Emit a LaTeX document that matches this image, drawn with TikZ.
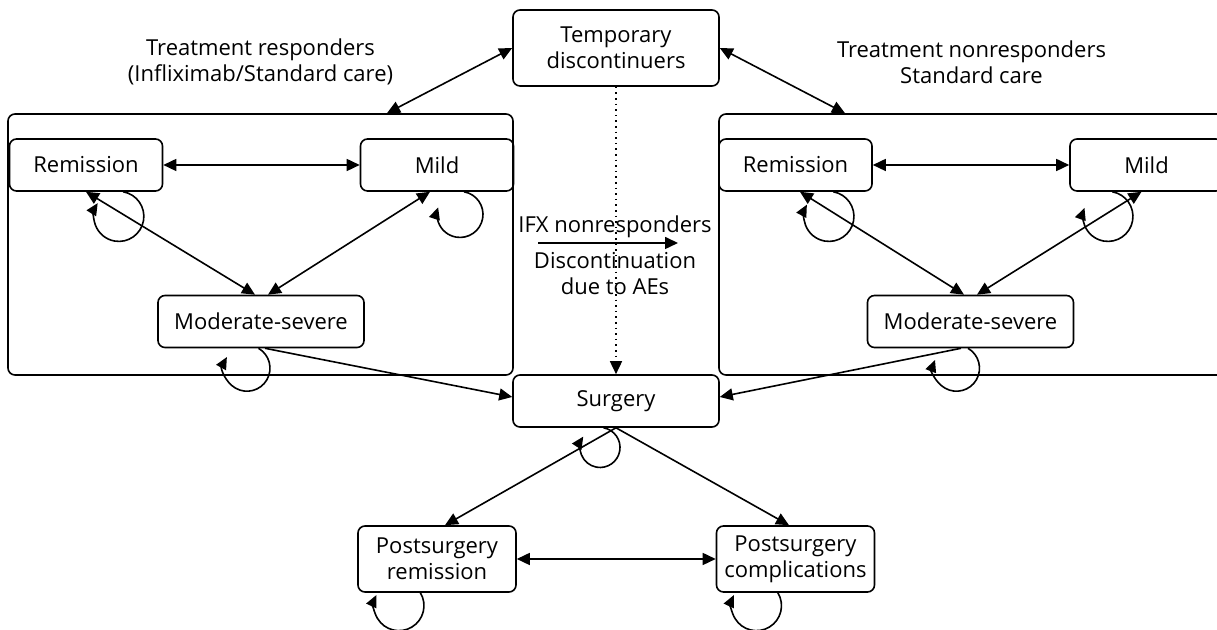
\documentclass[tikz,border=0pt]{standalone}
\usepackage{fontspec}
\setmainfont{Open Sans}
\usetikzlibrary{arrows.meta,positioning}

\begin{document}
\begin{tikzpicture}[x=0.5pt,y=0.5pt,
  font=\fontsize{11}{13}\selectfont,
  statebox/.style={draw,rounded corners=3.5pt,line width=0.8pt,inner sep=0pt,align=center,
    minimum width=#1,minimum height=26pt},
  statebox/.default=76.5pt,
  groupbox/.style={draw,rounded corners=3.5pt,line width=0.8pt,inner sep=0pt,
    minimum width=252.5pt,minimum height=130.5pt},
  grouplabel/.style={align=center},
  biarrow/.style={{Triangle[length=6.5pt,width=6pt]}-{Triangle[length=6.5pt,width=6pt]},line width=0.8pt},
  onearrow/.style={-{Triangle[length=6.5pt,width=6pt]},line width=0.8pt},
  selfloop/.style={-{Triangle[length=6pt,width=5.5pt]},line width=0.8pt}]

 \useasboundingbox (0,0) rectangle (1217,630);
 \clip (0,0) rectangle (1217,630);

 % ---- top ----
 \node[statebox=103pt,minimum height=38pt] (tmp) at (616,582) {Temporary\\discontinuers};
 \node[grouplabel] (respL) at (260.5,568) {Treatment responders\\(Infliximab/Standard care)};
 \node[grouplabel] (respR) at (971.5,568) {Treatment nonresponders\\Standard care};

 % ---- treatment groups ----
 \node[groupbox] (grpL) at (260.5,385.5) {};
 \node[groupbox] (grpR) at (971.5,385.5) {};
 \foreach \s/\dx in {L/0,R/709.5} {
   \node[statebox] (rem\s) at (86+\dx,465) {Remission};
   \node[statebox] (mild\s) at (437+\dx,465) {Mild};
   \node[statebox=103pt] (mod\s) at (261+\dx,308.5) {Moderate-severe};
   \draw[biarrow] (rem\s.east) -- (mild\s.west);
 }

 % ---- surgery ----
 \node[statebox=103pt] (surg) at (616,229) {Surgery};
 \node[statebox=79pt,minimum height=33pt] (prem) at (437,71) {Postsurgery\\remission};
 \node[statebox=79pt,minimum height=33pt] (pcomp) at (795.5,71) {Postsurgery\\complications};

 % ---- middle labels ----
 \node (ifx) at (615,403) {IFX nonresponders};
 \node[align=center] (disc) at (615,356.5) {Discontinuation\\due to AEs};
 \coordinate (ifxa) at (538,387);
 \coordinate (ifxb) at (678,387);

 % ---- connectors ----
 \draw[biarrow] (tmp.west) -- ([xshift=63.25pt]grpL.north);
 \draw[biarrow] (tmp.east) -- ([xshift=-63.25pt]grpR.north);
 \draw[onearrow,dotted] (tmp.south) -- (surg.north);
 \draw[onearrow] (ifxa) -- (ifxb);
 \draw[biarrow] (remL.south) -- ([xshift=-3pt]modL.north);
 \draw[biarrow] ([xshift=-3.5pt]mildL.south) -- ([xshift=3.5pt]modL.north);
 \draw[biarrow] ([xshift=2.25pt]remR.south) -- ([xshift=-3.25pt]modR.north);
 \draw[biarrow] ([xshift=-2.5pt]mildR.south) -- ([xshift=3.25pt]modR.north);
 \draw[onearrow] ([xshift=2pt]modL.south) -- ([yshift=2pt]surg.west);
 \draw[onearrow] ([xshift=-4.75pt]modR.south) -- ([yshift=2pt]surg.east);
 \draw[onearrow] (surg.south) -- ([xshift=4pt]prem.north);
 \draw[onearrow] (surg.south) -- ([xshift=-3.25pt]pcomp.north);
 \draw[biarrow] (prem.east) -- (pcomp.west);

 % ---- self loops ----
 \foreach \n/\dx/\a/\b/\r in {remL/18.6/80/-212/25, mildL/13.5/80/-198/23,
     remR/18.9/80/-208/25, mildR/-17.1/80/-200/25, modL/-1.25/60/-209/23,
     modR/-1.25/60/-201/23, surg/-6.25/80/-213/20, prem/-8.3/31/-205/25,
     pcomp/-8.8/31/-205/25}
   \draw[selfloop] ([xshift=\dx pt]\n.south) arc[start angle=\a,end angle=\b,radius=\r];
\end{tikzpicture}
\end{document}
